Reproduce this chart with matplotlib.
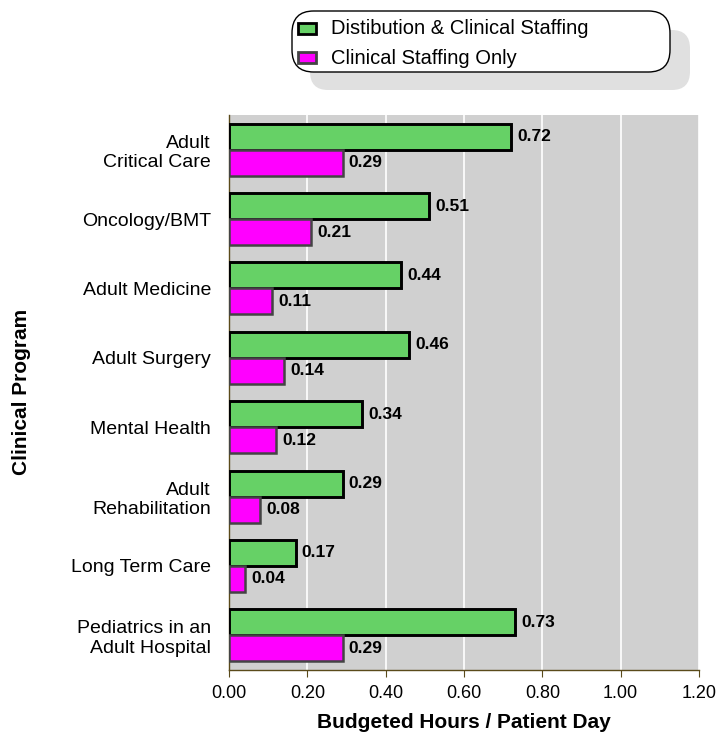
import matplotlib
matplotlib.use("Agg")
import matplotlib.pyplot as plt
from matplotlib.patches import FancyBboxPatch, Rectangle
import numpy as np

plt.rcParams['font.family'] = ['Liberation Sans', 'DejaVu Sans']

programs = ["Adult\nCritical Care", "Oncology/BMT", "Adult Medicine", "Adult Surgery",
            "Mental Health", "Adult\nRehabilitation", "Long Term Care",
            "Pediatrics in an\nAdult Hospital"]
dist_clinical = [0.72, 0.51, 0.44, 0.46, 0.34, 0.29, 0.17, 0.73]
clinical_only = [0.29, 0.21, 0.11, 0.14, 0.12, 0.08, 0.04, 0.29]
series_names = ["Distibution & Clinical Staffing", "Clinical Staffing Only"]
x_ticks = [0.0, 0.2, 0.4, 0.6, 0.8, 1.0, 1.2]

green = "#66d166"
magenta = "#ff00ff"
spine_col = "#5a4a1a"

W, H = 720, 738
fig = plt.figure(figsize=(W / 100, H / 100), dpi=100)
ax = fig.add_axes([229 / W, 1 - 670 / H, (699 - 229) / W, (670 - 115) / H])
ax.set_facecolor("#d0d0d0")

y = np.arange(len(programs))
h = 0.375
ax.barh(y - h / 2, dist_clinical, height=h, color=green, edgecolor="black",
        linewidth=2.1, zorder=3)
ax.barh(y + h / 2, clinical_only, height=h, color=magenta, edgecolor="#444444",
        linewidth=1.8, zorder=3)

for yi, v in zip(y, dist_clinical):
    ax.text(v + 0.016, yi - h / 2, f"{v:.2f}", va="center", ha="left",
            fontsize=12.5, fontweight="bold", zorder=4)
for yi, v in zip(y, clinical_only):
    ax.text(v + 0.016, yi + h / 2, f"{v:.2f}", va="center", ha="left",
            fontsize=12.5, fontweight="bold", zorder=4)

ax.set_xlim(0, 1.2)
ax.set_ylim(len(programs) - 0.5, -0.5)
ax.set_xticks(x_ticks)
ax.set_xticklabels([f"{t:.2f}" for t in x_ticks], fontsize=13)
ax.set_yticks(y)
ax.set_yticklabels(programs, fontsize=14, multialignment="right")
ax.tick_params(axis="y", length=0, pad=13)
ax.tick_params(axis="x", length=5, color=spine_col, pad=6)
ax.xaxis.grid(True, color="white", linewidth=1.2, zorder=1)
ax.set_axisbelow(True)
for s in ["top", "right"]:
    ax.spines[s].set_visible(False)
for s in ["left", "bottom"]:
    ax.spines[s].set_color(spine_col)
    ax.spines[s].set_linewidth(1)

ax.set_xlabel("Budgeted Hours / Patient Day", fontsize=15, fontweight="bold", labelpad=8)
fig.text(22 / W, 1 - 392 / H, "Clinical Program", rotation=90, fontsize=15,
         fontweight="bold", ha="center", va="center")


def fx(px):
    return px / W


def fy(py):
    return 1 - py / H


# Legend box with drop shadow
shadow = FancyBboxPatch((fx(310), fy(90)), fx(690) - fx(310), fy(30) - fy(90),
                        boxstyle="round,pad=0,rounding_size=0.025",
                        transform=fig.transFigure, facecolor="#e0e0e0",
                        edgecolor="none", zorder=1)
box = FancyBboxPatch((fx(292), fy(72)), fx(670) - fx(292), fy(11) - fy(72),
                     boxstyle="round,pad=0,rounding_size=0.03",
                     transform=fig.transFigure, facecolor="white",
                     edgecolor="black", linewidth=1, zorder=2)
fig.patches.extend([shadow, box])

for i, (name, col, ec) in enumerate(zip(series_names, [green, magenta],
                                         ["black", "#444444"])):
    cy = 28 + i * 29.5
    fig.patches.append(Rectangle((fx(298), fy(cy + 5.5)), fx(316) - fx(298),
                                 fy(cy - 5.5) - fy(cy + 5.5), transform=fig.transFigure,
                                 facecolor=col, edgecolor=ec, linewidth=2, zorder=3))
    fig.text(fx(331), fy(cy + 1), name, fontsize=14.5, va="center", ha="left", zorder=4)

fig.savefig("out.png", dpi=100)
